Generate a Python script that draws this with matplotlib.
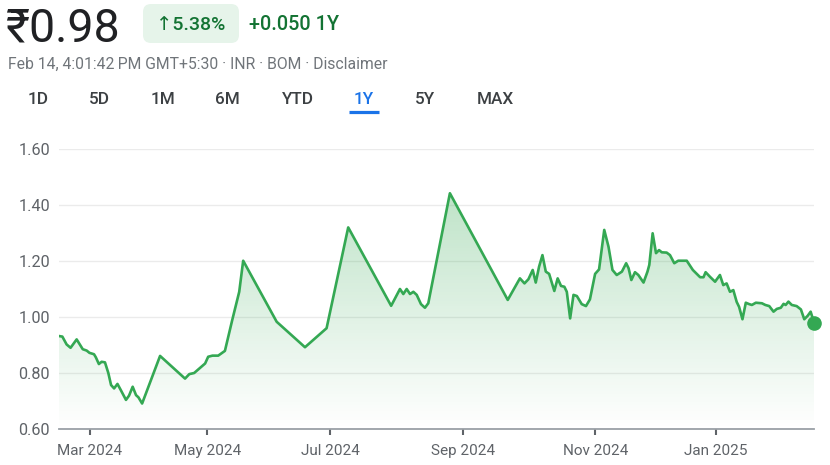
import numpy as np
import matplotlib
matplotlib.use("Agg")
import matplotlib.pyplot as plt
from matplotlib.colors import LinearSegmentedColormap
from matplotlib.patches import FancyBboxPatch

plt.rcParams['font.family'] = ['Roboto', 'DejaVu Sans']

GREEN = '#34a853'
DARK_GREEN = '#137333'
GREY = '#70757a'

# trading-session index (x) and closing price (INR)
sessions = [0, 1.1, 2.5, 3.8, 5.8, 7.8, 9.1, 10.0, 11.5, 12.1, 13.1, 14.0, 15.1,
            16.2, 17.1, 18.1, 19.2, 20.3, 22.0, 23.0, 24.2, 25.3, 26.1, 27.3,
            33.2, 41.4, 42.8, 44.4, 48.0, 49.0, 50.4, 52.3, 54.5, 56.9, 59.2,
            60.5, 71.5, 80.8, 87.9, 95.0, 109.1, 112.0, 113.1, 114.2, 115.3,
            116.4, 117.5, 118.9, 120.2, 121.3, 128.4, 147.4, 151.4, 152.9,
            154.2, 155.6, 156.6, 157.7, 158.8, 159.9, 161.0, 162.7, 163.8,
            164.9, 166.0, 166.8, 167.9, 169.0, 170.1, 171.7, 173.1, 174.4,
            176.1, 177.4, 179.1, 180.5, 181.8, 183.2, 184.9, 186.3, 187.1,
            188.0, 189.2, 190.3, 192.0, 193.3, 193.9, 195.0, 196.1, 197.1,
            198.0, 199.6, 200.7, 202.1, 203.4, 206.2, 208.2, 210.6, 211.7,
            212.4, 213.8, 215.5, 217.1, 218.2, 219.3, 220.4, 221.5, 222.6,
            223.4, 224.5, 225.6, 226.7, 227.6, 228.9, 230.9, 232.0, 233.3,
            234.7, 235.8, 237.1, 238.0, 238.7, 239.6, 240.7, 242.3, 243.7,
            244.8, 245.9, 246.9, 248.0]
prices = [0.932, 0.93, 0.902, 0.89, 0.92, 0.885, 0.88, 0.872, 0.867, 0.856,
          0.832, 0.84, 0.838, 0.80, 0.757, 0.745, 0.761, 0.739, 0.704, 0.719,
          0.751, 0.721, 0.713, 0.691, 0.861, 0.78, 0.796, 0.80, 0.834, 0.858,
          0.862, 0.862, 0.879, 0.989, 1.09, 1.201, 0.983, 0.892, 0.96, 1.32,
          1.04, 1.10, 1.082, 1.10, 1.082, 1.09, 1.079, 1.046, 1.033, 1.049,
          1.442, 1.061, 1.138, 1.12, 1.135, 1.168, 1.123, 1.18, 1.221, 1.162,
          1.154, 1.093, 1.138, 1.111, 1.108, 1.09, 0.995, 1.079, 1.075, 1.046,
          1.039, 1.063, 1.154, 1.17, 1.311, 1.251, 1.168, 1.15, 1.162, 1.192,
          1.174, 1.132, 1.16, 1.15, 1.123, 1.162, 1.186, 1.299, 1.228, 1.239,
          1.231, 1.23, 1.221, 1.192, 1.201, 1.201, 1.168, 1.142, 1.142, 1.16,
          1.144, 1.126, 1.15, 1.114, 1.12, 1.09, 1.096, 1.054, 1.036, 0.992,
          1.051, 1.046, 1.043, 1.051, 1.049, 1.043, 1.039, 1.019, 1.029, 1.033,
          1.047, 1.043, 1.055, 1.043, 1.039, 1.027, 0.992, 1.004, 1.019, 0.98]

tick_sessions = [10.2, 48.7, 89.1, 132.6, 176.2, 215.7]
tick_labels = ["Mar 2024", "May 2024", "Jul 2024", "Sep 2024", "Nov 2024",
               "Jan 2025"]
y_ticks = [0.60, 0.80, 1.00, 1.20, 1.40, 1.60]

ranges = ["1D", "5D", "1M", "6M", "YTD", "1Y", "5Y", "MAX"]
range_x = [38, 99, 163, 227, 298, 364, 425, 495]

fig = plt.figure(figsize=(8.3, 4.65), dpi=100)

# header drawn in pixel coordinates
hdr = fig.add_axes([0, 0, 1, 1])
hdr.set_xlim(0, 830)
hdr.set_ylim(465, 0)
hdr.axis('off')

hdr.text(5, 41, "₹0.98", fontsize=33.5, color='#202124', va='baseline')
hdr.add_patch(FancyBboxPatch((143, 4), 96, 39, boxstyle="round,pad=0,rounding_size=8",
                             fc='#e6f4ea', ec='none'))
hdr.text(191, 29.5, "↑5.38%", fontsize=14, fontweight=500, color=DARK_GREEN,
         ha='center', va='baseline')
hdr.text(249, 29.5, "+0.050 1Y", fontsize=14.3, fontweight=500,
         color=DARK_GREEN, va='baseline')
hdr.text(8, 68.5, "Feb 14, 4:01:42\u2009PM GMT+5:30 · INR · BOM · Disclaimer",
         fontsize=11.3, color=GREY, va='baseline')

for label, x in zip(ranges, range_x):
    col = '#1a73e8' if label == "1Y" else '#3c4043'
    hdr.text(x, 103.5, label, fontsize=12.3, fontweight=500, color=col,
             ha='center', va='baseline')
hdr.plot([349, 379], [112, 112], color='#1a73e8', lw=2.3, solid_capstyle='butt')

# price chart
ax = fig.add_axes([59 / 830, 36 / 465, 755 / 830, 280 / 465])

fill = ax.fill_between(sessions, prices, 0.60, color='none', lw=0)
cmap = LinearSegmentedColormap.from_list(
    'fade', [(0.204, 0.659, 0.325, 0.0), (0.204, 0.659, 0.325, 0.32)])
grad = np.linspace(0, 1, 256).reshape(-1, 1)
im = ax.imshow(grad, extent=[0, 248, 0.60, 1.45], origin='lower',
               aspect='auto', cmap=cmap, zorder=1)
im.set_clip_path(fill.get_paths()[0], transform=ax.transData)
ax.set_ylim(0.60, 1.60)
ax.set_xlim(0, 248)

ax.plot(sessions, prices, color=GREEN, lw=1.9, zorder=3, solid_joinstyle='round')
ax.plot(sessions[-1], prices[-1], 'o', color=GREEN, ms=9.5, zorder=4,
        clip_on=False)

ax.set_yticks(y_ticks)
ax.set_yticklabels(["%.2f" % v for v in y_ticks])
ax.set_xticks(tick_sessions)
ax.set_xticklabels(tick_labels)
ax.grid(axis='y', color='#ebebeb', lw=1)
ax.set_axisbelow(True)
for s in ['top', 'right', 'left']:
    ax.spines[s].set_visible(False)
ax.spines['bottom'].set_color('#9aa0a6')
ax.spines['bottom'].set_linewidth(1.3)
ax.tick_params(axis='y', length=0, pad=6.5, labelsize=11.7, labelcolor='#5f6368')
ax.tick_params(axis='x', length=4.5, width=1.5, color='#5f6368', pad=6,
               labelsize=11, labelcolor='#5f6368')

fig.savefig("out.png", dpi=100)
